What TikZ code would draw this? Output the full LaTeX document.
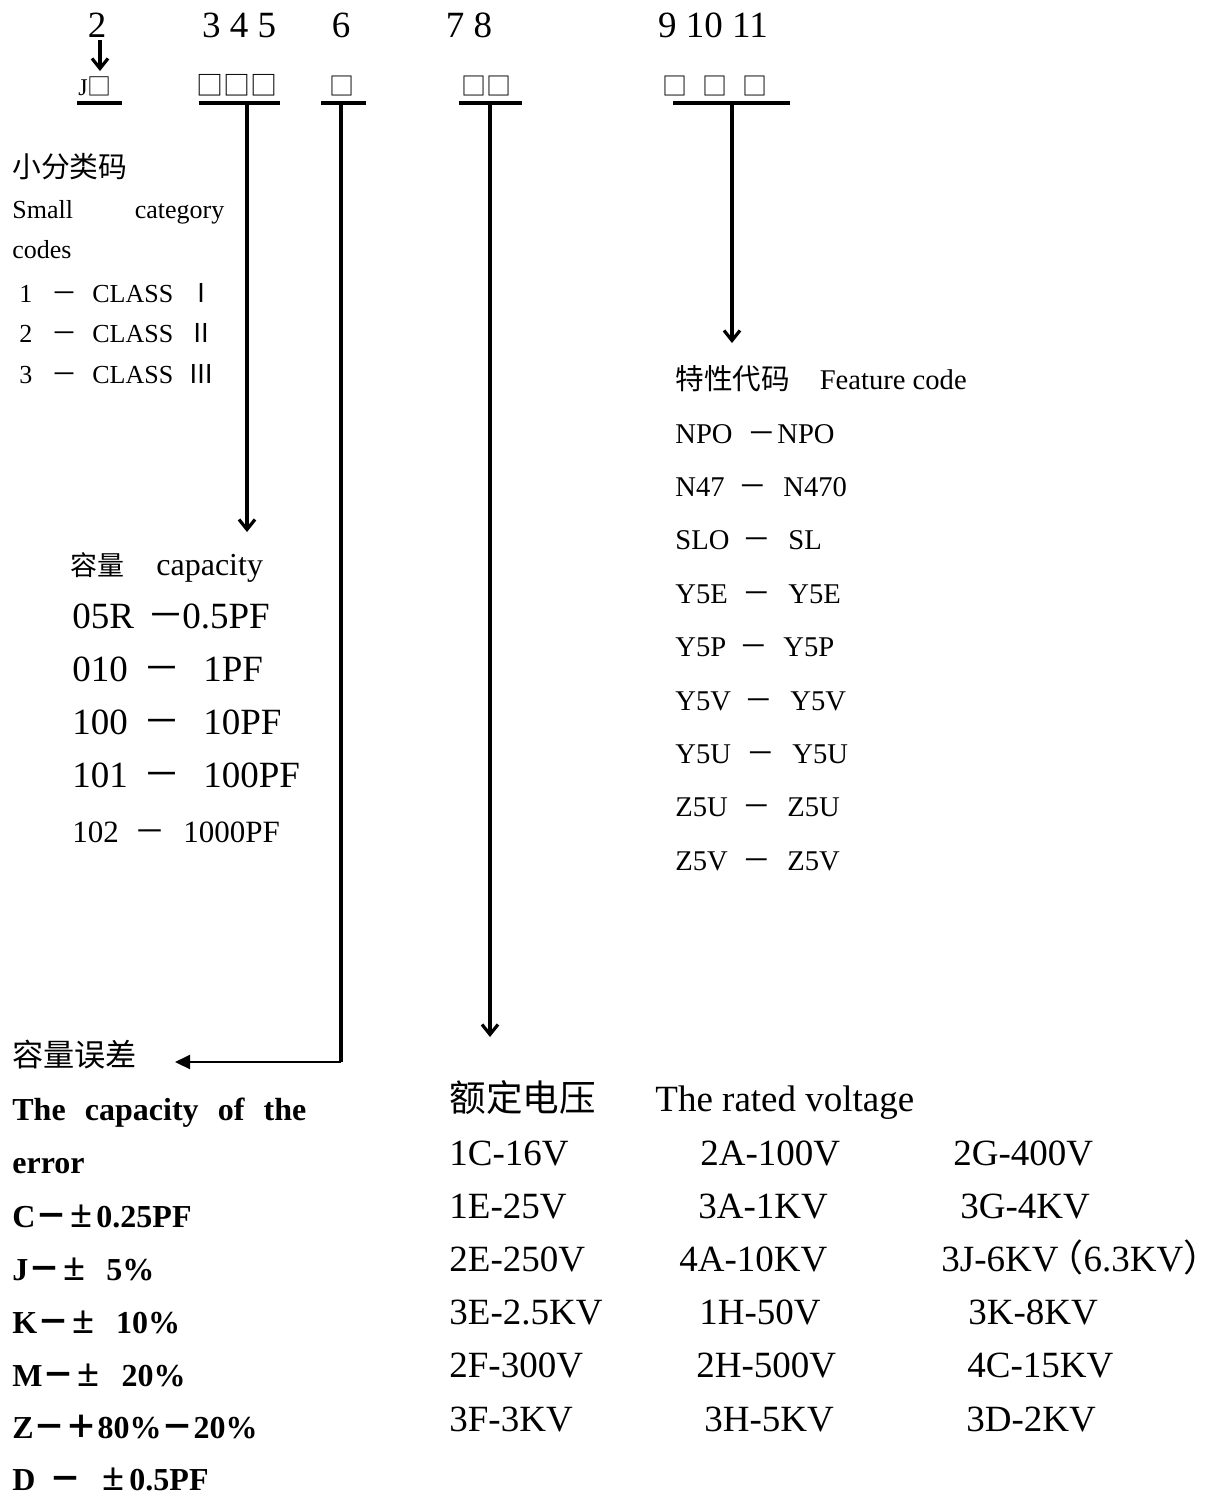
\documentclass[tikz,border=0pt]{standalone}
\usepackage{fontspec}
\setmainfont{Liberation Serif}
\newfontfamily\cjk{Noto Sans CJK SC}
\usetikzlibrary{arrows.meta}
\newcommand\setsz[1]{\fontsize{#1}{#1}\selectfont}
\newcommand\pmbig{\scalebox{1.25}{±}}

\tikzset{
    txt/.style={anchor=base west, inner sep=0pt},
    ctr/.style={anchor=base, inner sep=0pt},
    uline/.style={line width=1.7pt},
    stem/.style={line width=1.6pt},
    down/.style={stem, -{Straight Barb[length=5pt, width=8pt]}},
    big/.style={font=\setsz{18.5pt}},
    small/.style={font=\setsz{13pt}},
    feat/.style={font=\setsz{14.3pt}},
    err/.style={font=\bfseries\setsz{16pt}},
}

\begin{document}
\begin{tikzpicture}[x=0.5pt, y=-0.5pt]
        \useasboundingbox (0,0) rectangle (1217,1496);

        \node[ctr, big] (n2) at (97,37) {2};
        \node[ctr, big] (n345) at (239,37) {3 4 5};
        \node[ctr, big] (n6) at (341,37) {6};
        \node[ctr, big] (n78) at (469,37) {7 8};
        \node[ctr, big] (n911) at (713,37) {9 10 11};

        \node[txt, font=\setsz{12pt}] (b2) at (78,95) {J{\cjk □}};
        \node[txt, font=\setsz{13.5pt}] (b345) at (196,95) {\cjk □□□};
        \node[txt, font=\setsz{12.5pt}] (b6) at (329,95) {\cjk □};
        \node[txt, font=\setsz{12.5pt}] (b78) at (461,95) {\cjk □□};
        \node[txt, font=\setsz{12.5pt}] (b911) at (662,95) {\cjk □\hspace{7.5pt}□\hspace{7.5pt}□};

        \coordinate (a2s) at (100,40);
        \coordinate (a2e) at (100,71);
        \draw[down] (a2s) -- (a2e);

        \coordinate (u2w) at (77,103);  \coordinate (u2e) at (122,103);
        \coordinate (u3w) at (199,103); \coordinate (u3e) at (280,103);
        \coordinate (u6w) at (321,103); \coordinate (u6e) at (366,103);
        \coordinate (u7w) at (459,103); \coordinate (u7e) at (522,103);
        \coordinate (u9w) at (673,103); \coordinate (u9e) at (790,103);
        \foreach \u in {u2,u3,u6,u7,u9} {
            \draw[uline] (\u w) -- (\u e);
        }

        \coordinate (u3m) at (247,103);
        \coordinate (u6m) at (341,103);
        \coordinate (u7m) at (490,103);
        \coordinate (u9m) at (732,103);
        \coordinate (capin) at (247,532);
        \coordinate (errbend) at (341,1062);
        \coordinate (errin) at (175,1062);
        \coordinate (voltin) at (490,1037);
        \coordinate (featin) at (732,343);

        \draw[down] (u3m) -- (capin);
        \draw[stem] (u6m) -- (errbend);
        \draw[line width=1pt, -{Triangle[length=7.5pt, width=7pt]}] (errbend) -- (errin);
        \draw[down] (u7m) -- (voltin);
        \draw[down] (u9m) -- (featin);

        \node[txt, font=\setsz{14.4pt}\cjk] (clshd) at (12,177) {小分类码};
        \node[txt, small] (clsen) at (12,218) {\makebox[106pt][l]{Small\hfill category}};
        \node[txt, small] (clsen2) at (12,258) {codes};
        \foreach \n/\r [count=\i] in {1/Ⅰ, 2/Ⅱ, 3/Ⅲ} {
            \pgfmathsetmacro\yy{302+40.5*(\i-1)}
            \node[txt, small] (cls\i) at (19,\yy) {\n};
            \node[ctr, small] (clsd\i) at (64,\yy) {\cjk －};
            \node[txt, small] (clsc\i) at (92,\yy) {CLASS};
            \node[ctr, small] (clsr\i) at (201,\yy) {\cjk \r};
        }

        \node[txt, font=\setsz{13.5pt}\cjk] (caphd) at (70,575) {容量};
        \node[txt, font=\setsz{16pt}] (caphden) at (156,575) {capacity};
        \foreach \code/\dx/\val/\vx [count=\i] in {05R/166/0.5PF/182, 010/162/1PF/203, 100/162/10PF/203, 101/162/100PF/203} {
            \pgfmathsetmacro\yy{628+53.3*(\i-1)}
            \node[txt, big] (cap\i) at (72,\yy) {\code};
            \node[ctr, big] (capd\i) at (\dx,\yy) {\cjk －};
            \node[txt, big] (capv\i) at (\vx,\yy) {\val};
        }
        \node[txt, font=\setsz{15.5pt}] (cap5) at (72,842) {102};
        \node[ctr, font=\setsz{15.5pt}] (capd5) at (150,842) {\cjk －};
        \node[txt, font=\setsz{15.5pt}] (capv5) at (183,842) {1000PF};

        \node[txt, feat] (feathd) at (675,389) {{\cjk 特性代码}\hspace{15pt}Feature code};
        \foreach \code/\dx/\val/\vx [count=\i] in {NPO/762/NPO/777, N47/753/N470/783, SLO/757/SL/788, Y5E/757/Y5E/788, Y5P/754/Y5P/783, Y5V/759/Y5V/790, Y5U/761/Y5U/792, Z5U/757/Z5U/787, Z5V/757/Z5V/787} {
            \pgfmathsetmacro\yy{443+53.4*(\i-1)}
            \node[txt, feat] (feat\i) at (675,\yy) {\code};
            \node[ctr, feat] (featd\i) at (\dx,\yy) {\cjk －};
            \node[txt, feat] (featv\i) at (\vx,\yy) {\val};
        }

        \node[txt, font=\setsz{15.6pt}\cjk] (errhd) at (12,1066) {容量误差};
        \node[txt, err] (erren) at (12,1120) {\makebox[147pt][l]{The\hfill capacity\hfill of\hfill the}};
        \node[txt, err] (erren2) at (12,1173) {error};
        \node[txt, err] (err1) at (12,1227) {C{\cjk －}\hspace{1.5pt}\pmbig\hspace{2pt}0.25PF};
        \node[txt, err] (err2) at (12,1280) {J{\cjk －}\hspace{1.5pt}\pmbig\hspace{10.5pt}5\%};
        \node[txt, err] (err3) at (12,1333) {K{\cjk －}\hspace{1.5pt}\pmbig\hspace{11pt}10\%};
        \node[txt, err] (err4) at (12,1386) {M{\cjk －}\hspace{1.5pt}\pmbig\hspace{11pt}20\%};
        \node[txt, err] (err5) at (12,1438) {Z{\cjk －＋}80\%{\cjk －}20\%};
        \node[txt, err] (err6) at (12,1490) {D\hspace{7pt}{\cjk －}\hspace{10.5pt}\pmbig\hspace{2.5pt}0.5PF};

        \node[txt, font=\setsz{18.3pt}\cjk] (volthd) at (449,1111) {额定电压};
        \node[txt, big] (volthden) at (655,1111) {The rated voltage};
        \foreach \va/\xb/\vb/\xc/\vc [count=\i] in {
            1C-16V/700/2A-100V/953/2G-400V,
            1E-25V/698/3A-1KV/960/3G-4KV,
            2E-250V/679/4A-10KV/941/{3J-6KV\hspace{-6pt}{\cjk （}6.3KV{\cjk ）}},
            3E-2.5KV/699/1H-50V/968/3K-8KV,
            2F-300V/696/2H-500V/967/4C-15KV,
            3F-3KV/704/3H-5KV/966/3D-2KV} {
            \pgfmathsetmacro\yy{1165+53.2*(\i-1)}
            \node[txt, big] (volta\i) at (449,\yy) {\va};
            \node[txt, big] (voltb\i) at (\xb,\yy) {\vb};
            \node[txt, big] (voltc\i) at (\xc,\yy) {\vc};
        }
    \end{tikzpicture}
\end{document}
